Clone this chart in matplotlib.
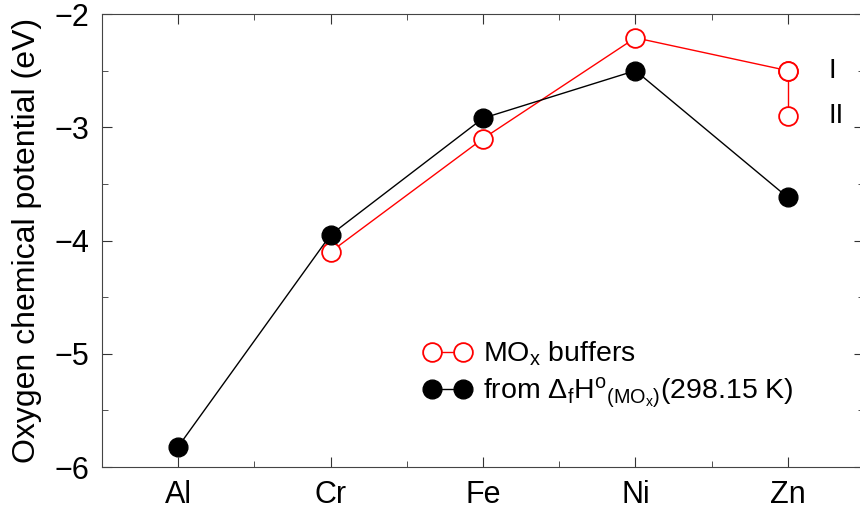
import matplotlib
matplotlib.use("Agg")
import matplotlib.pyplot as plt
from matplotlib.ticker import MultipleLocator

plt.rcParams['font.family'] = ['Liberation Sans', 'DejaVu Sans']
plt.rcParams['mathtext.fontset'] = 'custom'
plt.rcParams['mathtext.rm'] = 'Liberation Sans'
plt.rcParams['mathtext.it'] = 'Liberation Sans:italic'
plt.rcParams['mathtext.bf'] = 'Liberation Sans:bold'

# data
elements = ['Al', 'Cr', 'Fe', 'Ni', 'Zn']
buffer_elems = ['Cr', 'Fe', 'Ni', 'Zn']
buffer_mu = [-4.10, -3.10, -2.21, -2.50]
zn_cases = ['I', 'II']
zn_mu = [-2.50, -2.90]
enthalpy_mu = [-5.82, -3.95, -2.92, -2.50, -3.62]

xpos = {e: i for i, e in enumerate(elements)}

fig = plt.figure(figsize=(8.6, 5.08), dpi=100)
ax = fig.add_axes([0.1186, 0.0807, 0.8861, 0.8917])

red_kw = dict(color='red', lw=1.0, marker='o', ms=13.5, mfc='white', mec='red', mew=1.3)
blk_kw = dict(color='black', lw=1.0, marker='o', ms=13.5, mfc='black', mec='black')

ax.plot([xpos[e] for e in buffer_elems], buffer_mu, label=r'MO$_\mathrm{x}$ buffers', zorder=3, **red_kw)
ax.plot([xpos['Zn']] * len(zn_mu), zn_mu, zorder=3, **red_kw)
ax.plot([xpos[e] for e in elements], enthalpy_mu,
        label=r'from $\Delta_\mathrm{f}$H$^\mathrm{o}$$_{(\mathrm{MO_x})}$(298.15 K)', zorder=4, **blk_kw)

for lab, v in zip(zn_cases, zn_mu):
    ax.text(xpos['Zn'] + 0.27, v, lab, fontsize=20, va='center', ha='left')

ax.set_xlim(-0.5, 4.5)
ax.set_ylim(-6, -2)
ax.set_xticks(range(len(elements)))
ax.set_xticklabels(elements)
ax.xaxis.set_minor_locator(MultipleLocator(0.5))
ax.yaxis.set_major_locator(MultipleLocator(1))
ax.yaxis.set_minor_locator(MultipleLocator(0.5))
ax.tick_params(which='both', direction='in', top=True, right=True, labelsize=22, color='#333333')
ax.tick_params(which='major', length=7, pad=9)
ax.tick_params(which='minor', length=4)
for s in ax.spines.values():
    s.set_color('#444444')
ax.set_ylabel('Oxygen chemical potential (eV)', fontsize=23, labelpad=9)

ax.legend(loc='upper left', bbox_to_anchor=(0.422, 0.281), frameon=False, fontsize=20.5,
          numpoints=2, handlelength=1.7, handletextpad=0.37, labelspacing=0.25,
          borderpad=0, borderaxespad=0)

fig.savefig('out.png', dpi=100)
